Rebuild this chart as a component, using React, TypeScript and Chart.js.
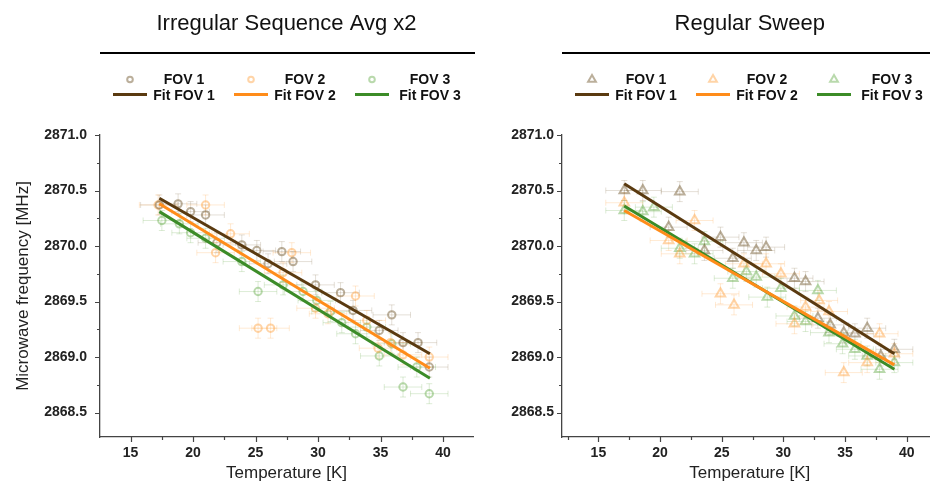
import React, { useEffect, useRef } from "react";
import { Chart, registerables } from "chart.js";

Chart.register(...registerables);

const FONT = "'Liberation Sans', Arial, Helvetica, sans-serif";

// ---------------- Irregular Sequence Avg x2 ----------------
const irrTempFov1 = [17.3, 18.8, 19.8, 21.0, 21.9, 23.9, 25.1, 26.0, 27.1, 28.0, 29.8, 31.8, 32.8, 34.9, 35.9, 36.8, 38.0, 38.9];
const irrFreqFov1 = [2870.37, 2870.38, 2870.31, 2870.28, 2870.03, 2870.01, 2869.96, 2869.84, 2869.95, 2869.86, 2869.65, 2869.58, 2869.42, 2869.24, 2869.38, 2869.13, 2869.13, 2868.91];
const irrTempFov2 = [17.2, 21.0, 21.8, 23.0, 25.2, 26.2, 27.2, 27.9, 29.8, 30.8, 33.0, 33.9, 34.8, 35.8, 36.8, 38.9];
const irrFreqFov2 = [2870.37, 2870.37, 2869.94, 2870.11, 2869.26, 2869.26, 2869.76, 2869.94, 2869.44, 2869.39, 2869.55, 2869.33, 2869.08, 2869.13, 2869.02, 2869.0];
const irrTempFov3 = [17.5, 18.9, 19.8, 21.0, 23.9, 25.2, 27.2, 28.8, 29.9, 31.0, 31.9, 33.0, 33.9, 34.9, 35.9, 36.8, 37.9, 38.9];
const irrFreqFov3 = [2870.23, 2870.2, 2870.12, 2870.07, 2869.86, 2869.59, 2869.65, 2869.59, 2869.51, 2869.41, 2869.31, 2869.21, 2869.27, 2869.01, 2869.12, 2868.73, 2868.91, 2868.67];
const irrFitTemp = [17.3, 38.95];
const irrFitFov1 = [2870.43, 2869.03];
const irrFitFov2 = [2870.38, 2868.9];
const irrFitFov3 = [2870.31, 2868.81];

// ---------------- Regular Sweep ----------------
const regTempFov1 = [17.1, 18.6, 20.7, 21.6, 23.6, 24.9, 25.9, 26.8, 27.8, 28.6, 30.9, 31.8, 32.8, 33.8, 34.9, 35.8, 36.8, 37.9, 39.0];
const regFreqFov1 = [2870.5, 2870.5, 2870.17, 2870.49, 2869.96, 2870.08, 2869.89, 2870.03, 2869.96, 2869.99, 2869.71, 2869.68, 2869.35, 2869.29, 2869.22, 2869.21, 2869.26, 2869.01, 2869.07];
const regTempFov2 = [17.1, 20.7, 21.6, 22.8, 24.9, 26.0, 26.8, 28.6, 29.8, 30.9, 31.8, 32.9, 33.7, 34.9, 36.8, 37.8, 39.0];
const regFreqFov2 = [2870.39, 2870.05, 2869.93, 2870.23, 2869.57, 2869.47, 2869.84, 2869.84, 2869.75, 2869.3, 2869.45, 2869.51, 2869.41, 2868.86, 2868.95, 2869.21, 2869.03];
const regTempFov3 = [17.1, 18.6, 19.5, 21.6, 22.8, 23.6, 25.9, 27.0, 27.8, 28.7, 29.8, 30.9, 31.8, 32.8, 33.7, 34.8, 35.8, 36.8, 37.8, 39.0];
const regFreqFov3 = [2870.32, 2870.31, 2870.35, 2869.98, 2869.93, 2870.04, 2869.71, 2869.77, 2869.72, 2869.54, 2869.62, 2869.37, 2869.32, 2869.6, 2869.22, 2869.12, 2869.07, 2869.01, 2868.89, 2868.95];
const regFitTemp = [17.1, 39.0];
const regFitFov1 = [2870.56, 2869.03];
const regFitFov2 = [2870.32, 2868.93];
const regFitFov3 = [2870.36, 2868.89];

// error bar half-widths
const TEMP_ERR = 1.5;
const FREQ_ERR = 0.09;

// axes
const X_TICK_STEP = 2.5;
const X_LABEL_STEP = 5;
const Y_TICK_STEP = 0.25;
const Y_LABEL_STEP = 0.5;
const Y_MIN = 2868.28;
const Y_MAX = 2871.0;

const seriesLabels = ["FOV 1", "FOV 2", "FOV 3"];
const fitLabels = ["Fit FOV 1", "Fit FOV 2", "Fit FOV 3"];

const markerColors = ["rgba(120,95,55,0.5)", "rgba(255,160,60,0.45)", "rgba(100,170,70,0.45)"];
const errColors = ["rgba(120,95,55,0.2)", "rgba(255,160,60,0.22)", "rgba(100,170,70,0.22)"];
const fitColors = ["#5a3a10", "#ff8c1a", "#3c8c28"];

type Panel = {
  title: string;
  temps: number[][];
  freqs: number[][];
  fitTemp: number[];
  fits: number[][];
  marker: "circle" | "triangle";
  xMin: number;
  xMax: number;
  width: number;
  yAxisWidth: number;
  padRight: number;
  yTitle: boolean;
  yTickPad: number;
};

const panels: Panel[] = [
  {
    title: "Irregular Sequence Avg x2",
    temps: [irrTempFov1, irrTempFov2, irrTempFov3],
    freqs: [irrFreqFov1, irrFreqFov2, irrFreqFov3],
    fitTemp: irrFitTemp,
    fits: [irrFitFov1, irrFitFov2, irrFitFov3],
    marker: "circle",
    xMin: 12.55,
    xMax: 42.4,
    width: 480,
    yAxisWidth: 100,
    padRight: 7,
    yTitle: true,
    yTickPad: 8,
  },
  {
    title: "Regular Sweep",
    temps: [regTempFov1, regTempFov2, regTempFov3],
    freqs: [regFreqFov1, regFreqFov2, regFreqFov3],
    fitTemp: regFitTemp,
    fits: [regFitFov1, regFitFov2, regFitFov3],
    marker: "triangle",
    xMin: 12.05,
    xMax: 42.5,
    width: 465,
    yAxisWidth: 82,
    padRight: 6,
    yTitle: false,
    yTickPad: 3,
  },
];

const isMultiple = (v: number, step: number) => Math.abs(v / step - Math.round(v / step)) < 1e-6;

const drawMarker = (ctx: CanvasRenderingContext2D, style: string, x: number, y: number, r: number) => {
  ctx.beginPath();
  if (style === "circle") {
    ctx.arc(x, y, r, 0, Math.PI * 2);
  } else {
    ctx.moveTo(x, y - r);
    ctx.lineTo(x + r * 0.866, y + r * 0.5);
    ctx.lineTo(x - r * 0.866, y + r * 0.5);
    ctx.closePath();
  }
  ctx.stroke();
};

const decorPlugin = {
  id: "decor",
  beforeDatasetsDraw(chart: any, _args: any, opts: any) {
    const ctx: CanvasRenderingContext2D = chart.ctx;
    const xs = chart.scales.x;
    const ys = chart.scales.y;
    ctx.save();
    ctx.lineWidth = 1;
    chart.data.datasets.forEach((ds: any) => {
      if (!ds.errColor) return;
      ctx.strokeStyle = ds.errColor;
      ds.data.forEach((p: any) => {
        const px = xs.getPixelForValue(p.x);
        const py = ys.getPixelForValue(p.y);
        const x0 = xs.getPixelForValue(p.x - TEMP_ERR);
        const x1 = xs.getPixelForValue(p.x + TEMP_ERR);
        const y0 = ys.getPixelForValue(p.y - FREQ_ERR);
        const y1 = ys.getPixelForValue(p.y + FREQ_ERR);
        const cap = 3;
        ctx.beginPath();
        ctx.moveTo(x0, py);
        ctx.lineTo(x1, py);
        ctx.moveTo(x0, py - cap);
        ctx.lineTo(x0, py + cap);
        ctx.moveTo(x1, py - cap);
        ctx.lineTo(x1, py + cap);
        ctx.moveTo(px, y0);
        ctx.lineTo(px, y1);
        ctx.moveTo(px - cap, y0);
        ctx.lineTo(px + cap, y0);
        ctx.moveTo(px - cap, y1);
        ctx.lineTo(px + cap, y1);
        ctx.stroke();
      });
    });
    ctx.restore();
  },
  afterDraw(chart: any, _args: any, opts: any) {
    const ctx: CanvasRenderingContext2D = chart.ctx;
    const area = chart.chartArea;
    const xs = chart.scales.x;
    const ys = chart.scales.y;
    ctx.save();
    // custom tick marks
    ctx.strokeStyle = "#444";
    ctx.lineWidth = 1.2;
    ctx.beginPath();
    xs.ticks.forEach((t: any) => {
      const px = Math.round(xs.getPixelForValue(t.value)) + 0.5;
      const len = isMultiple(t.value, X_LABEL_STEP) ? 5 : 3;
      ctx.moveTo(px, area.bottom);
      ctx.lineTo(px, area.bottom + len);
    });
    ys.ticks.forEach((t: any) => {
      const py = Math.round(ys.getPixelForValue(t.value)) + 0.5;
      const len = isMultiple(t.value, Y_LABEL_STEP) ? 5 : 3;
      ctx.moveTo(area.left, py);
      ctx.lineTo(area.left - len, py);
    });
    ctx.stroke();

    // title + rule
    ctx.fillStyle = "#111";
    ctx.font = `22px ${FONT}`;
    ctx.textAlign = "center";
    ctx.textBaseline = "alphabetic";
    ctx.fillText(opts.title, (area.left + area.right) / 2, 30);
    ctx.fillStyle = "#000";
    ctx.fillRect(area.left, 52, area.right - area.left + 2, 2);

    // legend
    const symX = [30, 151, 272];
    const txtX = [84, 205, 330];
    ctx.font = `bold 14px ${FONT}`;
    for (let i = 0; i < 3; i++) {
      const sx = area.left + symX[i];
      const tx = area.left + txtX[i];
      ctx.strokeStyle = markerColors[i];
      ctx.lineWidth = 2;
      drawMarker(ctx, opts.marker, sx, 79.5, opts.marker === "circle" ? 2.8 : 4.5);
      ctx.strokeStyle = fitColors[i];
      ctx.lineWidth = 3;
      ctx.beginPath();
      ctx.moveTo(sx - 17, 94.5);
      ctx.lineTo(sx + 17, 94.5);
      ctx.stroke();
      ctx.fillStyle = "#111";
      ctx.fillText(seriesLabels[i], tx, 83.5);
      ctx.fillText(fitLabels[i], tx, 99.5);
    }
    ctx.restore();
  },
};

function buildConfig(p: Panel): any {
  const datasets: any[] = [];
  for (let i = 0; i < 3; i++) {
    datasets.push({
      label: fitLabels[i],
      data: p.fitTemp.map((t, k) => ({ x: t, y: p.fits[i][k] })),
      showLine: true,
      borderColor: fitColors[i],
      borderWidth: 3,
      pointRadius: 0,
      fill: false,
      order: 0,
    });
  }
  for (let i = 0; i < 3; i++) {
    datasets.push({
      label: seriesLabels[i],
      data: p.temps[i].map((t, k) => ({ x: t, y: p.freqs[i][k] })),
      showLine: false,
      pointStyle: p.marker,
      pointRadius: p.marker === "circle" ? 3.7 : 5.5,
      pointBorderWidth: 2,
      pointBackgroundColor: "rgba(0,0,0,0)",
      pointBorderColor: markerColors[i],
      borderColor: markerColors[i],
      backgroundColor: "rgba(0,0,0,0)",
      errColor: errColors[i],
      order: 1,
    });
  }
  const tickFont = { family: FONT, size: 14, weight: "bold" };
  return {
    type: "scatter",
    data: { datasets },
    plugins: [decorPlugin],
    options: {
      responsive: false,
      animation: false,
      devicePixelRatio: 1,
      layout: { padding: { top: 135, left: 0, right: p.padRight, bottom: 0 } },
      plugins: {
        legend: { display: false },
        tooltip: { enabled: false },
        title: { display: false },
        decor: { title: p.title, marker: p.marker },
      },
      scales: {
        x: {
          type: "linear",
          position: "bottom",
          min: p.xMin,
          max: p.xMax,
          ticks: {
            stepSize: X_TICK_STEP,
            includeBounds: false,
            autoSkip: false,
            maxRotation: 0,
            padding: 3,
            color: "#222",
            font: tickFont,
            callback: (v: number) => (isMultiple(v, X_LABEL_STEP) ? String(v) : ""),
          },
          grid: { display: false, drawTicks: true, tickLength: 5 },
          border: { display: true, color: "#444", width: 1.3 },
          title: {
            display: true,
            text: "Temperature [K]",
            color: "#222",
            font: { family: FONT, size: 17 },
            padding: { top: 0, bottom: 0 },
          },
          afterFit: (s: any) => {
            s.height = 47;
          },
        },
        y: {
          type: "linear",
          position: "left",
          min: Y_MIN,
          max: Y_MAX,
          ticks: {
            stepSize: Y_TICK_STEP,
            includeBounds: false,
            autoSkip: false,
            padding: p.yTickPad,
            color: "#222",
            font: tickFont,
            callback: (v: number) => (isMultiple(v, Y_LABEL_STEP) ? v.toFixed(1) : ""),
          },
          grid: { display: false, drawTicks: true, tickLength: 5 },
          border: { display: true, color: "#444", width: 1.3 },
          title: {
            display: p.yTitle,
            text: "Microwave frequency [MHz]",
            color: "#222",
            font: { family: FONT, size: 17 },
            padding: { top: 13, bottom: 0 },
          },
          afterFit: (s: any) => {
            s.width = p.yAxisWidth;
          },
        },
      },
    },
  };
}

export default function App() {
  const leftRef = useRef<HTMLCanvasElement>(null);
  const rightRef = useRef<HTMLCanvasElement>(null);

  useEffect(() => {
    const charts: Chart[] = [];
    if (leftRef.current) charts.push(new Chart(leftRef.current, buildConfig(panels[0])));
    if (rightRef.current) charts.push(new Chart(rightRef.current, buildConfig(panels[1])));
    return () => charts.forEach((c) => c.destroy());
  }, []);

  return (
    <div
      style={{
        position: "absolute",
        left: 0,
        top: 0,
        width: 930,
        height: 484,
        overflow: "hidden",
        background: "#fff",
      }}
    >
      <canvas
        ref={leftRef}
        width={panels[0].width}
        height={484}
        style={{ position: "absolute", left: 0, top: 0, width: panels[0].width, height: 484 }}
      />
      <canvas
        ref={rightRef}
        width={panels[1].width}
        height={484}
        style={{ position: "absolute", left: 480, top: 0, width: panels[1].width, height: 484 }}
      />
    </div>
  );
}
